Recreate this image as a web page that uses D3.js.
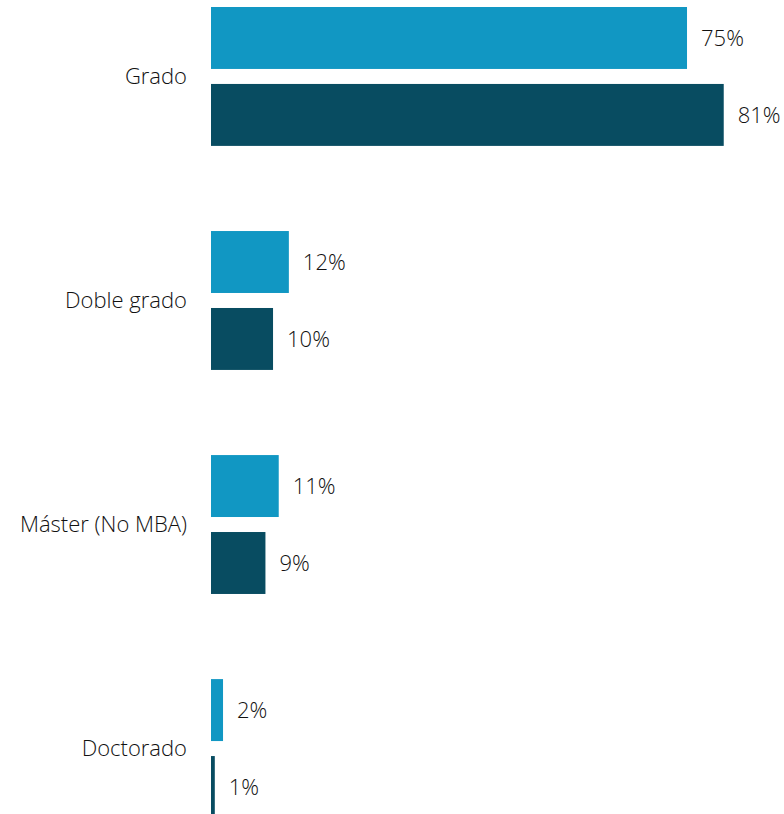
<!DOCTYPE html>
<html>
<head>
<meta charset="utf-8">
<script src="https://cdn.jsdelivr.net/npm/d3@7"></script>
<style>
  body { margin: 0; background: #fff; }
  text { font-family: "Open Sans", sans-serif; font-weight: 300; fill: #111; }
</style>
</head>
<body>
<div id="chart"></div>
<script>
// categories and the two series
var categories = ["Grado", "Doble grado", "Máster (No MBA)", "Doctorado"];
var series = ["s1", "s2"];
var seriesA = [75.2, 12.3, 10.7, 1.9];
var seriesB = [81.0, 9.8, 8.6, 0.6];
var colors = ["#1197c3", "#084c61"];

var width = 784, height = 814;

var svg = d3.select("#chart").append("svg")
    .attr("width", width).attr("height", height);

var y = d3.scaleBand()
    .domain(categories)
    .range([7, 818])
    .paddingInner(0.38)
    .paddingOuter(0);

var ySub = d3.scaleBand()
    .domain(series)
    .range([0, y.bandwidth()])
    .paddingInner(0.195);

var x = d3.scaleLinear()
    .domain([0, 100])
    .range([211, 211 + 633]);

var rows = categories.map(function(c, i) {
  return { cat: c, vals: [seriesA[i], seriesB[i]] };
});

var groups = svg.selectAll("g.grp")
    .data(rows)
  .enter().append("g")
    .attr("class", "grp")
    .attr("transform", d => "translate(0," + y(d.cat) + ")");

groups.selectAll("rect")
    .data(d => d.vals.map((v, j) => ({ key: series[j], v: v, j: j })))
  .enter().append("rect")
    .attr("x", x(0))
    .attr("y", d => ySub(d.key))
    .attr("width", d => x(d.v) - x(0))
    .attr("height", ySub.bandwidth())
    .style("fill", d => colors[d.j]);

groups.selectAll("text.val")
    .data(d => d.vals.map((v, j) => ({ key: series[j], v: v, j: j })))
  .enter().append("text")
    .attr("class", "val")
    .attr("x", d => x(d.v) + 14)
    .attr("y", d => ySub(d.key) + ySub.bandwidth() / 2)
    .attr("dy", "0.35em")
    .style("font-size", "22px")
    .text(d => Math.round(d.v) + "%");

groups.append("text")
    .attr("class", "cat")
    .attr("x", 187)
    .attr("y", y.bandwidth() / 2)
    .attr("dy", "0.35em")
    .attr("text-anchor", "end")
    .style("font-size", "22px")
    .text(d => d.cat);
</script>
</body>
</html>
